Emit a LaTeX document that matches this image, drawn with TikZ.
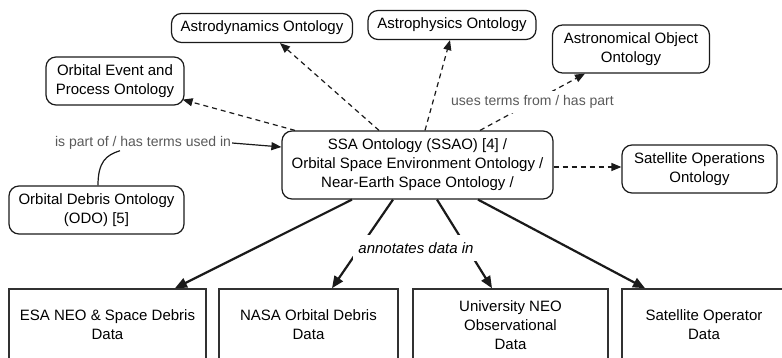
\documentclass[tikz,border=0pt]{standalone}
\usepackage{fontspec}
\setmainfont{Liberation Sans}
\usetikzlibrary{arrows.meta}
\definecolor{edgec}{HTML}{1A1A1A}
\definecolor{lblc}{HTML}{5A5A5A}
\begin{document}
\begin{tikzpicture}[x=1pt,y=-1pt,
  onto/.style={draw=edgec, line width=1.2pt, rounded corners=10pt, align=center,
    font=\fontsize{15}{19}\selectfont, inner sep=0pt},
  databox/.style={draw=edgec!90, line width=1.6pt, align=center,
    font=\fontsize{15}{19}\selectfont, inner sep=0pt},
  dasharrow/.style={draw=edgec, line width=1.2pt, dash pattern=on 5pt off 4pt,
    -{Triangle[length=10pt,width=8pt]}},
  solidarrow/.style={draw=edgec, line width=2.2pt, -{Triangle[length=12pt,width=10pt]}},
  lbl/.style={text=lblc, font=\fontsize{14}{17}\selectfont, fill=white, inner sep=1pt},
]
\useasboundingbox (0,0) rectangle (782,358);
\clip (0,0) rectangle (782,358);

% ontology boxes
\node[onto, minimum width=181pt, minimum height=29pt] (adyn) at (262,28) {Astrodynamics Ontology};
\node[onto, minimum width=168pt, minimum height=29pt] (aphys) at (452,25) {Astrophysics Ontology};
\node[onto, minimum width=157pt, minimum height=48pt] (aobj) at (631,49) {Astronomical Object\\Ontology};
\node[onto, minimum width=138pt, minimum height=48pt] (oep) at (115,81) {Orbital Event and\\Process Ontology};
\node[onto, minimum width=271pt, minimum height=68pt] (ssa) at (417.5,165) {SSA Ontology (SSAO) [4] /\\Orbital Space Environment Ontology /\\Near-Earth Space Ontology /};
\node[onto, minimum width=155pt, minimum height=48pt] (satops) at (699.5,169) {Satellite Operations\\Ontology};
\node[onto, minimum width=175pt, minimum height=48pt] (odo) at (96.5,210) {Orbital Debris Ontology\\(ODO) [5]};

% data boxes
\node[databox, minimum width=197pt, minimum height=72pt] (esa) at (107.5,325) {ESA NEO \& Space Debris\\Data};
\node[databox, minimum width=179pt, minimum height=72pt] (nasa) at (308.5,325) {NASA Orbital Debris\\Data};
\node[databox, minimum width=195pt, minimum height=72pt] (univ) at (510.5,325) {University NEO\\Observational\\Data};
\node[databox, minimum width=164pt, minimum height=72pt] (satop) at (704,325) {Satellite Operator\\Data};

% dashed arrows
\draw[dasharrow] ([xshift=-38.5pt]ssa.north) -- ([xshift=18pt]adyn.south);
\draw[dasharrow] ([xshift=7.5pt]ssa.north) -- ([xshift=-2pt]aphys.south);
\draw[dasharrow] ([xshift=62.5pt]ssa.north) -- node[lbl, inner xsep=2pt, inner ysep=4pt] (uses) {uses terms from / has part} ([xshift=-46pt]aobj.south);
\draw[dasharrow] ([xshift=-122.5pt]ssa.north) -- ([xshift=-2pt,yshift=6pt]oep.south east);
\draw[dasharrow] ([yshift=-2pt]ssa.east) -- ([yshift=-2pt]ssa.east -| satops.west);

% solid arrows
\draw[solidarrow] ([xshift=-65.5pt]ssa.south) -- ([xshift=67.5pt]esa.north);
\draw[solidarrow] ([xshift=-24.5pt]ssa.south) -- ([xshift=23.5pt]nasa.north);
\draw[solidarrow] ([xshift=19.5pt]ssa.south) -- ([xshift=-18.5pt]univ.north);
\draw[solidarrow] ([xshift=60.5pt]ssa.south) -- ([xshift=-59pt]satop.north);
\node[fill=white, inner xsep=5pt, inner ysep=7pt, font=\itshape\fontsize{15}{18}\selectfont] (ann) at (416,248) {annotates data in};

% ODO part-of edge
\node[lbl] (partof) at (143,143) {is part of / has terms used in};
\draw[edgec, line width=1.2pt] ([xshift=1.5pt]odo.north) .. controls (98,162) and (106,155) .. ([xshift=-23pt]partof.south);
\draw[edgec, line width=1.2pt, -{Triangle[length=10pt,width=8pt]}] (partof.east) -- ([yshift=18pt]ssa.west);
\end{tikzpicture}
\end{document}
